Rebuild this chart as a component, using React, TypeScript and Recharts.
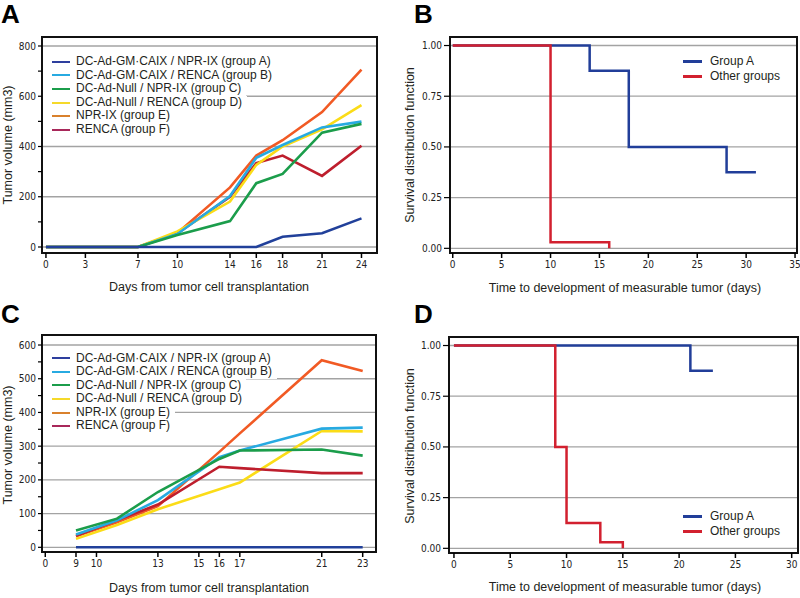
import React from 'react';
import { LineChart, Line, XAxis, YAxis, CartesianGrid, ReferenceArea, Legend } from 'recharts';

// ---------- Panel A data ----------
const daysA = [0, 3, 7, 10, 14, 16, 18, 21, 24];
const panelA_groupA = [0, 0, 0, 0, 0, 0, 41, 55, 114];
const panelA_groupB = [0, 0, 0, 52, 203, 355, 406, 476, 499];
const panelA_groupC = [0, 0, 0, 48, 103, 254, 291, 455, 490];
const panelA_groupD = [0, 0, 0, 62, 181, 327, 400, 468, 565];
const panelA_groupE = [0, 0, 0, 56, 237, 364, 425, 537, 706];
const panelA_groupF = [0, 0, 0, 54, 200, 334, 364, 283, 403];
const xTicksA = [0, 3, 7, 10, 14, 16, 18, 21, 24];
const yTicksA = [0, 100, 200, 300, 400, 500, 600, 700, 800];
const yGridA = [0, 200, 400, 600, 800];

// ---------- Panel C data ----------
const daysC = [9, 11, 13, 16, 17, 21, 23];
const panelC_groupA = [0, 0, 0, 0, 0, 0, 0];
const panelC_groupB = [38, 80, 140, 267, 287, 352, 355];
const panelC_groupC = [50, 85, 164, 262, 287, 290, 272];
const panelC_groupD = [25, 66, 113, 172, 192, 345, 344];
const panelC_groupE = [33, 74, 122, 283, 338, 555, 523];
const panelC_groupF = [34, 80, 127, 239, 235, 220, 220];
const xTicksC = [7.5, 9, 10, 13, 15, 16, 17, 21, 23];
const xTickLabelsC = ['0', '9', '10', '13', '15', '16', '17', '21', '23'];
const yTicksC = [0, 50, 100, 150, 200, 250, 300, 350, 400, 450, 500, 550, 600];
const yGridC = [0, 100, 200, 300, 400, 500, 600];

// ---------- Panel B data (Kaplan-Meier) ----------
const kmB_groupA_t = [0, 14, 18, 28, 31];
const kmB_groupA_s = [1, 0.875, 0.5, 0.375, 0.375];
const kmB_other_t = [0, 10, 16];
const kmB_other_s = [1, 0.03, 0];
const xTicksB = [0, 5, 10, 15, 20, 25, 30, 35];

// ---------- Panel D data (Kaplan-Meier) ----------
const kmD_groupA_t = [0, 21, 23];
const kmD_groupA_s = [1, 0.875, 0.875];
const kmD_other_t = [0, 9, 10, 13, 15];
const kmD_other_s = [1, 0.5, 0.125, 0.03, 0];
const xTicksD = [0, 5, 10, 15, 20, 25, 30];

const yTicksKM = [0, 0.25, 0.5, 0.75, 1];

const seriesKeys = ['a', 'b', 'c', 'd', 'e', 'f'];
const seriesNames = [
  'DC-Ad-GM·CAIX / NPR-IX (group A)',
  'DC-Ad-GM·CAIX / RENCA (group B)',
  'DC-Ad-Null / NPR-IX (group C)',
  'DC-Ad-Null / RENCA (group D)',
  'NPR-IX (group E)',
  'RENCA (group F)',
];
const seriesColors = ['#21409a', '#27aae1', '#1b9d4b', '#fbdc17', '#f15a24', '#be1e2d'];
const legendColors = ['#2e3f9e', '#27aae1', '#1b9d4b', '#f5d92a', '#d9812c', '#a8285a'];
const drawOrder = [4, 5, 3, 1, 2, 0];
const drawOrderC = [4, 3, 5, 1, 2, 0];

const kmNames = ['Group A', 'Other groups'];
const kmColors = ['#213e99', '#d2202f'];

const SANS = '"Liberation Sans", Arial, Helvetica, sans-serif';
const NARROW = '"Liberation Sans Narrow", "DejaVu Sans Condensed", "Roboto Condensed", "Liberation Sans", sans-serif';
const GRID = '#a3a3a3';

const buildTable = (days: number[], cols: number[][]) =>
  days.map((d, i) => {
    const row: any = { day: d };
    seriesKeys.forEach((k, j) => (row[k] = cols[j][i]));
    return row;
  });

const tableA = buildTable(daysA, [panelA_groupA, panelA_groupB, panelA_groupC, panelA_groupD, panelA_groupE, panelA_groupF]);
const tableC = buildTable(daysC, [panelC_groupA, panelC_groupB, panelC_groupC, panelC_groupD, panelC_groupE, panelC_groupF]);
const kmTable = (t: number[], s: number[]) => t.map((v, i) => ({ t: v, s: s[i] }));

const tickStyle = { fontSize: 10, fontFamily: NARROW, fill: '#222' };

const RowLegend = ({ names, colors, rowH, lineW, lineH, gap, padL }: any) => (
  <div style={{ display: 'flex', flexDirection: 'column', alignItems: 'flex-start' }}>
    {names.map((n: string, i: number) => (
      <div
        key={n}
        style={{ display: 'flex', alignItems: 'center', background: '#fff', height: rowH, paddingLeft: padL, paddingRight: 5 }}
      >
        <span style={{ display: 'inline-block', width: lineW, height: lineH, background: colors[i] }} />
        <span
          style={{ marginLeft: gap, fontSize: 12, fontFamily: SANS, color: '#231f20', whiteSpace: 'nowrap', lineHeight: rowH + 'px' }}
        >
          {n}
        </span>
      </div>
    ))}
  </div>
);

const Letter = ({ ch, left, top }: any) => (
  <div style={{ position: 'absolute', left, top, fontFamily: SANS, fontWeight: 700, fontSize: 26, lineHeight: '26px', color: '#000' }}>{ch}</div>
);

const Title = ({ text, x, y, rotate }: any) => (
  <div
    style={{
      position: 'absolute', left: x, top: y, transform: `translate(-50%, -50%)${rotate ? ' rotate(-90deg)' : ''}`,
      fontFamily: SANS, fontSize: 12.5, lineHeight: '14px', whiteSpace: 'nowrap', color: '#231f20',
    }}
  >
    {text}
  </div>
);

const GrowthChart = ({ data, xDomain, yDomain, xTicks, xLabels, yTicks, yGrid, margin, order, legendTop }: any) => (
  <LineChart width={400} height={300} data={data} margin={margin}>
    <CartesianGrid vertical={false} horizontalValues={yGrid} stroke={GRID} strokeWidth={1.3} />
    <XAxis
      dataKey="day" type="number" domain={xDomain} ticks={xTicks} interval={0} allowDataOverflow
      axisLine={false} tickLine={{ stroke: '#000', strokeWidth: 1.5 }} tickSize={5} tickMargin={3}
      tick={tickStyle} height={30}
      tickFormatter={(v: number) => (xLabels ? xLabels[xTicks.indexOf(v)] : String(v))}
    />
    <YAxis
      type="number" domain={yDomain} ticks={yTicks} interval={0} allowDataOverflow width={40}
      axisLine={false} tickLine={{ stroke: '#000', strokeWidth: 1.2 }} tickSize={4} tickMargin={2}
      tick={tickStyle}
      tickFormatter={(v: number) => (yGrid.includes(v) ? String(v) : '')}
    />
    <Legend
      layout="vertical" align="center" verticalAlign="middle"
      wrapperStyle={{ left: margin.left + 41, top: legendTop, width: 'auto' }}
      content={() => <RowLegend names={seriesNames} colors={legendColors} rowH={13.6} lineW={18} lineH={2} gap={6} padL={9} />}
    />
    {order.map((j: number) => (
      <Line
        key={seriesKeys[j]} dataKey={seriesKeys[j]} name={seriesNames[j]} stroke={seriesColors[j]}
        strokeWidth={2.6} dot={false} isAnimationActive={false} type="linear"
      />
    ))}
    <ReferenceArea x1={xDomain[0]} x2={xDomain[1]} y1={yDomain[0]} y2={yDomain[1]} fill="none" stroke="#111" strokeWidth={2} ifOverflow="visible" />
  </LineChart>
);

const KMChart = ({ seriesA, seriesO, xDomain, xTicks, margin, legendTop }: any) => {
  const yDomain = [-0.023, 1.042];
  return (
    <LineChart width={400} height={300} margin={margin}>
      <CartesianGrid vertical={false} horizontalValues={yTicksKM} stroke={GRID} strokeWidth={1.3} />
      <XAxis
        dataKey="t" type="number" domain={xDomain} ticks={xTicks} interval={0} allowDataOverflow
        axisLine={false} tickLine={{ stroke: '#000', strokeWidth: 1.5 }} tickSize={5} tickMargin={3}
        tick={tickStyle} height={30}
      />
      <YAxis
        type="number" domain={yDomain} ticks={yTicksKM} interval={0} allowDataOverflow width={40}
        axisLine={false} tickLine={{ stroke: '#000', strokeWidth: 1.2 }} tickSize={6} tickMargin={2}
        tick={tickStyle} tickFormatter={(v: number) => v.toFixed(2)}
      />
      <Legend
        layout="vertical" align="center" verticalAlign="middle"
        wrapperStyle={{ left: 278, top: legendTop, width: 'auto' }}
        content={() => <RowLegend names={kmNames} colors={kmColors} rowH={15} lineW={19} lineH={3} gap={8} padL={5} />}
      />
      <Line data={seriesA} dataKey="s" name={kmNames[0]} type="stepAfter" stroke={kmColors[0]} strokeWidth={2.5} dot={false} isAnimationActive={false} />
      <Line data={seriesO} dataKey="s" name={kmNames[1]} type="stepAfter" stroke={kmColors[1]} strokeWidth={2.5} dot={false} isAnimationActive={false} />
      <ReferenceArea x1={xDomain[0]} x2={xDomain[1]} y1={yDomain[0]} y2={yDomain[1]} fill="none" stroke="#111" strokeWidth={2} ifOverflow="visible" />
    </LineChart>
  );
};

export default function App() {
  return (
    <div style={{ position: 'absolute', left: 0, top: 0, width: 800, height: 598, background: '#fff', overflow: 'hidden' }}>
      <div style={{ position: 'absolute', left: 0, top: 0 }}>
        <GrowthChart
          data={tableA} xDomain={[-0.3, 25.18]} yDomain={[-23.9, 835.8]} xTicks={xTicksA} yTicks={yTicksA} yGrid={yGridA}
          margin={{ top: 37, right: 23, bottom: 17, left: 2 }} order={drawOrder} legendTop={55}
        />
      </div>
      <div style={{ position: 'absolute', left: 400, top: 0 }}>
        <KMChart
          seriesA={kmTable(kmB_groupA_t, kmB_groupA_s)} seriesO={kmTable(kmB_other_t, kmB_other_s)}
          xDomain={[-0.28, 35.2]} xTicks={xTicksB} margin={{ top: 37, right: 3, bottom: 17, left: 10 }} legendTop={54}
        />
      </div>
      <div style={{ position: 'absolute', left: 0, top: 300 }}>
        <GrowthChart
          data={tableC} xDomain={[7.34, 23.65]} yDomain={[-13.9, 629.7]} xTicks={xTicksC} xLabels={xTickLabelsC} yTicks={yTicksC} yGrid={yGridC}
          margin={{ top: 35, right: 24, bottom: 18, left: 2 }} order={drawOrderC} legendTop={51.5}
        />
      </div>
      <div style={{ position: 'absolute', left: 400, top: 300 }}>
        <KMChart
          seriesA={kmTable(kmD_groupA_t, kmD_groupA_s)} seriesO={kmTable(kmD_other_t, kmD_other_s)}
          xDomain={[-0.44, 30.56]} xTicks={xTicksD} margin={{ top: 37, right: 2, bottom: 17, left: 9 }} legendTop={208.5}
        />
      </div>

      <Letter ch="A" left={1} top={1} />
      <Letter ch="B" left={414} top={1} />
      <Letter ch="C" left={1} top={301} />
      <Letter ch="D" left={414} top={301} />

      <Title text="Tumor volume (mm3)" x={8} y={145} rotate />
      <Title text="Days from tumor cell transplantation" x={209} y={287} />
      <Title text="Survival distribution function" x={410} y={145} rotate />
      <Title text="Time to development of measurable tumor (days)" x={625} y={288} />
      <Title text="Tumor volume (mm3)" x={8} y={445} rotate />
      <Title text="Days from tumor cell transplantation" x={209} y={588} />
      <Title text="Survival distribution function" x={410} y={446} rotate />
      <Title text="Time to development of measurable tumor (days)" x={625} y={587} />
    </div>
  );
}
